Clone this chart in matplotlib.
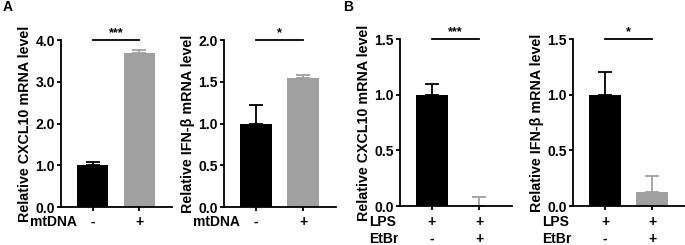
import matplotlib
matplotlib.use('Agg')
import matplotlib.pyplot as plt
from matplotlib.transforms import blended_transform_factory

plt.rcParams['font.family'] = ['Liberation Sans', 'DejaVu Sans']
plt.rcParams['font.weight'] = 'bold'

# panel data: mean values and upper error
cxcl10_mt = [1.0, 3.68]
cxcl10_mt_err = [0.07, 0.08]
ifnb_mt = [1.0, 1.54]
ifnb_mt_err = [0.22, 0.04]
cxcl10_etbr = [1.0, 0.0]
cxcl10_etbr_err = [0.10, 0.08]
ifnb_etbr = [1.0, 0.13]
ifnb_etbr_err = [0.20, 0.14]

mtdna_signs = ['-', '+']
lps_signs = ['+', '+']
etbr_signs = ['-', '+']

stars = ['***', '*', '***', '*']
ylabels = ['Relative CXCL10 mRNA level', 'Relative IFN-β mRNA level',
           'Relative CXCL10 mRNA level', 'Relative IFN-β mRNA level']

W, H = 685, 245
fig = plt.figure(figsize=(W / 100, H / 100), dpi=100)


def px_axes(left, right, top, bottom):
    return fig.add_axes([left / W, (H - bottom) / H, (right - left) / W, (bottom - top) / H])


boxes = [(61, 172, 40, 207), (224, 336, 40, 207), (400, 512, 39, 206), (573, 685, 39, 206)]
values = [cxcl10_mt, ifnb_mt, cxcl10_etbr, ifnb_etbr]
errors = [cxcl10_mt_err, ifnb_mt_err, cxcl10_etbr_err, ifnb_etbr_err]
ymax = [4.0, 2.0, 1.5, 1.5]
ystep = [1.0, 0.5, 0.5, 0.5]
colors = ['black', '#a0a0a0']

for i, (box, vals, errs) in enumerate(zip(boxes, values, errors)):
    ax = px_axes(*box)
    x = [0, 1]
    for j in range(2):
        ax.bar(x[j], vals[j], width=0.67, color=colors[j], zorder=2)
        ax.errorbar(x[j], vals[j], yerr=[[0], [errs[j]]], color=colors[j],
                    capsize=5, elinewidth=1.3, capthick=1.3, zorder=1)
    ax.set_xlim(-0.68, 1.7)
    ax.set_ylim(0, ymax[i])
    ticks = [k * ystep[i] for k in range(int(round(ymax[i] / ystep[i])) + 1)]
    ax.set_yticks(ticks)
    ax.set_yticklabels(['%.1f' % t for t in ticks], fontsize=10, fontweight='bold')
    ax.set_xticks(x)
    ax.set_xticklabels([])
    for side in ['top', 'right']:
        ax.spines[side].set_visible(False)
    for side in ['left', 'bottom']:
        ax.spines[side].set_linewidth(1.3)
    ax.tick_params(axis='both', width=1.3, length=3, pad=1.5)
    ax.set_ylabel(ylabels[i], fontsize=10.3, fontweight='bold', labelpad=2)

    # significance bracket
    ax.plot([0, 1], [ymax[i], ymax[i]], color='black', lw=1.3, clip_on=False)
    ax.text(0.5, ymax[i] * 1.005, stars[i], ha='center', va='bottom', fontsize=9,
            fontweight='bold')

    tr = blended_transform_factory(ax.transData, ax.transAxes)
    if i < 2:
        rows = [('mtDNA', mtdna_signs)]
    else:
        rows = [('LPS', lps_signs), ('EtBr', etbr_signs)]
    hpx = box[3] - box[2]
    for r, (name, signs) in enumerate(rows):
        yy = -(222 + r * 16.5 - box[3]) / hpx
        ax.text(-1.34, yy, name, transform=tr, ha='left', va='center',
                fontsize=10, fontweight='bold')
        for j in range(2):
            ax.text(x[j], yy, signs[j], transform=tr, ha='center', va='center',
                    fontsize=10, fontweight='bold')

fig.text(3 / W, 1 - 7 / H, 'A', fontsize=10, fontweight='bold', va='center')
fig.text(343 / W, 1 - 7 / H, 'B', fontsize=10, fontweight='bold', va='center')

fig.savefig('out.png', dpi=100)
